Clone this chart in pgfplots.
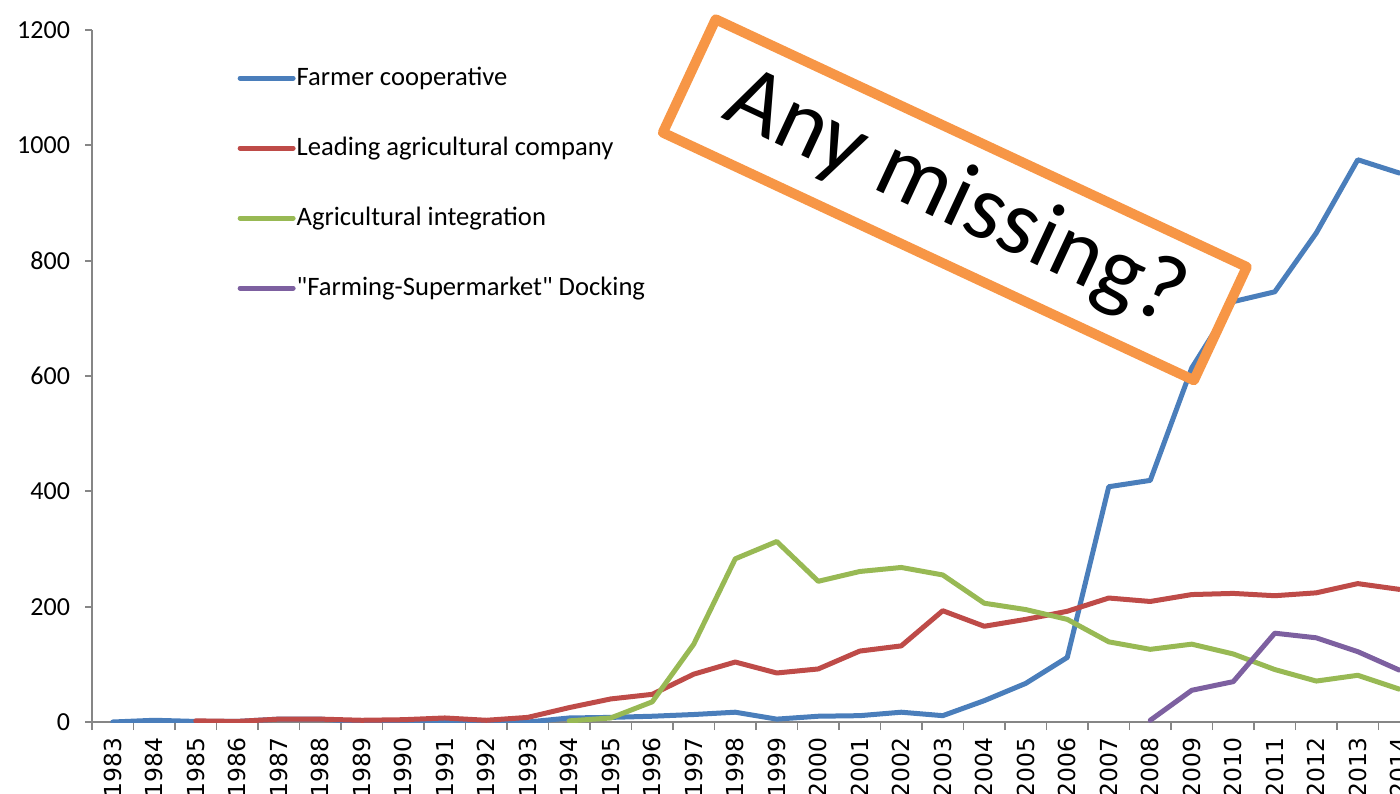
\documentclass[border=0pt]{standalone}
\usepackage{fontspec}
\setmainfont{Carlito}
\newfontfamily\qf{Carlito}
\newfontfamily\verdf{DejaVu Sans}
\usepackage{pgfplots}
\pgfplotsset{compat=1.18}
\definecolor{sblue}{HTML}{4A7EBB}
\definecolor{sred}{HTML}{BE4B48}
\definecolor{sgreen}{HTML}{98B954}
\definecolor{spurple}{HTML}{7D60A0}
\definecolor{boxorange}{HTML}{F79646}
\definecolor{axgray}{HTML}{868686}
\begin{document}
\begin{tikzpicture}[x=1pt,y=1pt]
\begin{axis}[
 at={(0,0)}, anchor=south west,
 width=664pt, height=346pt, scale only axis,
 xmin=1982.5, xmax=2014.5, ymin=0, ymax=1200,
 axis x line=bottom, axis y line=left,
 axis line style={draw=axgray, line width=0.9pt, -},
 ytick={0,200,...,1200},
 xtick={1983,...,2014},
 minor xtick={1982.5,1983.5,...,2014.5},
 tick align=outside,
 major tick length=3.5pt, minor tick length=4pt,
 major x tick style={draw=none},
 every tick/.style={draw=axgray, line width=0.9pt},
 /pgf/number format/assume math mode=true,
 /pgf/number format/1000 sep={},
 yticklabel style={font=\fontsize{13}{13}\selectfont, xshift=-4pt},
 xticklabel style={font=\verdf\fontsize{11.7}{12}\selectfont, rotate=90, anchor=east, xshift=-1pt},
 legend style={draw=none, fill=none, at={(axis cs:1986.0,1138)}, anchor=north west,
   inner sep=0pt, row sep=23pt, column sep=0.5pt,
   font=\fontsize{13.3}{14}\selectfont,
   nodes={inner sep=0pt, text height=9.5pt, text depth=2.5pt}},
 legend cell align=left,
 legend image code/.code={\draw[#1, line width=2.5pt] (0pt,0pt) -- (26.5pt,0pt);},
 every axis plot/.append style={line width=2.5pt, line join=round, line cap=round},
]
\addplot[sblue] coordinates {
(1983,0)(1984,3)(1985,1)(1986,1)(1987,5)(1988,5)(1989,0)(1990,2)(1991,3)(1992,1)
(1993,0)(1994,7)(1995,8)(1996,10)(1997,13)(1998,17)(1999,5)(2000,10)(2001,11)(2002,17)
(2003,11)(2004,37)(2005,67)(2006,112)(2007,408)(2008,419)(2009,614)(2010,729)(2011,746)
(2012,848)(2013,975)(2014,952)};
\addlegendentry{Farmer cooperative}
\addplot[sred] coordinates {
(1985,2)(1986,1)(1987,5)(1988,5)(1989,3)(1990,4)(1991,7)(1992,3)(1993,8)(1994,25)
(1995,40)(1996,48)(1997,83)(1998,104)(1999,85)(2000,92)(2001,123)(2002,132)(2003,193)
(2004,166)(2005,178)(2006,192)(2007,215)(2008,209)(2009,221)(2010,223)(2011,219)
(2012,224)(2013,240)(2014,230)};
\addlegendentry{Leading agricultural company}
\addplot[sgreen] coordinates {
(1994,2)(1995,7)(1996,35)(1997,135)(1998,283)(1999,313)(2000,244)(2001,261)(2002,268)
(2003,255)(2004,206)(2005,195)(2006,178)(2007,139)(2008,126)(2009,135)(2010,118)
(2011,91)(2012,71)(2013,81)(2014,57)};
\addlegendentry{Agricultural integration}
\addplot[spurple] coordinates {
(2008,3)(2009,55)(2010,70)(2011,154)(2012,146)(2013,122)(2014,90)};
\addlegendentry{{\qf "Farming-Supermarket" Docking}}
\end{axis}
\node[draw=boxorange, line width=5pt, line join=round, rotate=-25, minimum width=293pt,
  minimum height=62.5pt, inner sep=0pt, font=\fontsize{47}{47}\selectfont]
  at (431.4pt,261.1pt) {Any missing?};
\pgfresetboundingbox
\useasboundingbox (-46pt,-35.5pt) rectangle (654pt,361pt);
\end{tikzpicture}
\end{document}
